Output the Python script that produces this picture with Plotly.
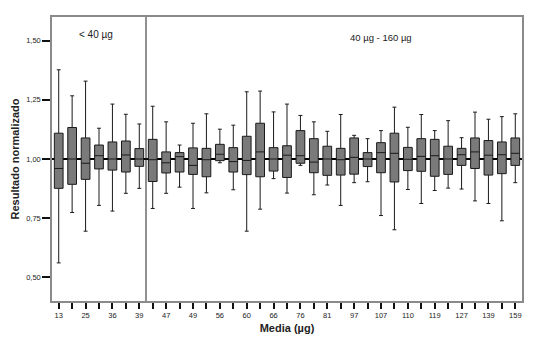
import plotly.graph_objects as go

# Box summaries per sample (normalized result), 35 samples ordered by mean mass
q1 = [0.876, 0.893, 0.914, 0.958, 0.953, 0.945, 0.969,
      0.905, 0.941, 0.945, 0.935, 0.925, 0.993, 0.945, 0.934, 0.925, 0.949,
      0.922, 0.982, 0.942, 0.931, 0.932, 0.936, 0.968, 0.942, 0.903, 0.951,
      0.948, 0.927, 0.935, 0.973, 0.960, 0.932, 0.938, 0.973]
median = [0.960, 1.000, 0.982, 1.014, 1.000, 1.017, 1.000,
          0.997, 0.984, 1.010, 0.973, 0.997, 1.020, 0.989, 0.994, 1.030, 1.000,
          1.016, 1.014, 0.987, 1.000, 0.997, 1.007, 1.000, 1.027, 1.024, 0.999,
          1.011, 1.014, 1.000, 1.018, 1.030, 1.016, 1.018, 1.024]
q3 = [1.109, 1.133, 1.089, 1.059, 1.072, 1.076, 1.044,
      1.083, 1.030, 1.027, 1.047, 1.045, 1.062, 1.048, 1.096, 1.151, 1.048,
      1.056, 1.120, 1.086, 1.054, 1.045, 1.089, 1.027, 1.069, 1.109, 1.049,
      1.086, 1.083, 1.054, 1.045, 1.089, 1.078, 1.072, 1.089]
whisker_low = [0.561, 0.774, 0.695, 0.804, 0.780, 0.855, 0.876,
               0.791, 0.855, 0.881, 0.791, 0.857, 0.984, 0.870, 0.695, 0.788, 0.917,
               0.856, 0.973, 0.849, 0.890, 0.804, 0.900, 0.904, 0.761, 0.701, 0.871,
               0.812, 0.867, 0.877, 0.873, 0.823, 0.812, 0.739, 0.900]
whisker_high = [1.377, 1.267, 1.329, 1.130, 1.232, 1.189, 1.148,
                1.223, 1.157, 1.059, 1.151, 1.191, 1.126, 1.143, 1.284, 1.287, 1.199,
                1.232, 1.184, 1.157, 1.117, 1.188, 1.100, 1.086, 1.120, 1.219, 1.134,
                1.188, 1.120, 1.162, 1.090, 1.198, 1.168, 1.179, 1.191]

# Labels shown under every other sample
tick_labels = ["13", "25", "36", "39", "47", "49", "56", "60", "66",
               "76", "81", "97", "107", "110", "119", "127", "139", "159"]

n = len(median)
positions = list(range(1, n + 1))
tick_text = [tick_labels[i // 2] if i % 2 == 0 else "" for i in range(n)]
split_after = 7  # samples below 40 µg

fig = go.Figure()
fig.add_trace(go.Box(
    x=positions,
    q1=q1, median=median, q3=q3,
    lowerfence=whisker_low, upperfence=whisker_high,
    width=0.65,
    whiskerwidth=0.45,
    fillcolor="#7a7a7a",
    line=dict(color="#1a1a1a", width=1),
    showlegend=False,
    hoverinfo="skip",
))

# Reference line at 1,00 behind the boxes
fig.add_shape(type="line", xref="paper", yref="y", x0=0, x1=1, y0=1, y1=1,
              line=dict(color="black", width=2.2), layer="below")
# Divider between the two mass ranges
fig.add_shape(type="line", xref="x", yref="paper",
              x0=split_after + 0.5, x1=split_after + 0.5, y0=0, y1=1,
              line=dict(color="#222222", width=1))

fig.add_annotation(x=3.75, y=1.525, xref="x", yref="y", text="< 40 µg",
                   showarrow=False, font=dict(size=10, color="#222"))
fig.add_annotation(x=25.0, y=1.515, xref="x", yref="y", text="40 µg - 160 µg",
                   showarrow=False, font=dict(size=9.5, color="#222"))

fig.update_layout(
    width=540, height=344,
    margin=dict(l=52, r=18, t=17, b=43),
    plot_bgcolor="white", paper_bgcolor="white",
    separators=",.",
    font=dict(family="Liberation Sans, Arial, sans-serif", color="#222"),
)
fig.update_xaxes(
    range=[0.5, n + 0.5],
    tickmode="array", tickvals=positions, ticktext=tick_text,
    ticks="outside", ticklen=6, tickwidth=2, tickcolor="#111",
    tickfont=dict(size=7.5),
    showline=True, linecolor="#8a8a8a", linewidth=1.5, mirror=True,
    showgrid=False, zeroline=False,
    title=dict(text="<b>Media (µg)</b>", font=dict(size=11), standoff=6),
)
fig.update_yaxes(
    range=[0.4, 1.6],
    tickvals=[0.5, 0.75, 1.0, 1.25, 1.5], tickformat=".2f",
    ticks="outside", ticklen=8, tickwidth=2, tickcolor="#111",
    tickfont=dict(size=7.5),
    showline=True, linecolor="#8a8a8a", linewidth=1.5, mirror=True,
    showgrid=False, zeroline=False,
    title=dict(text="<b>Resultado normalizado</b>", font=dict(size=11), standoff=4),
)

fig.write_html("out.html")
